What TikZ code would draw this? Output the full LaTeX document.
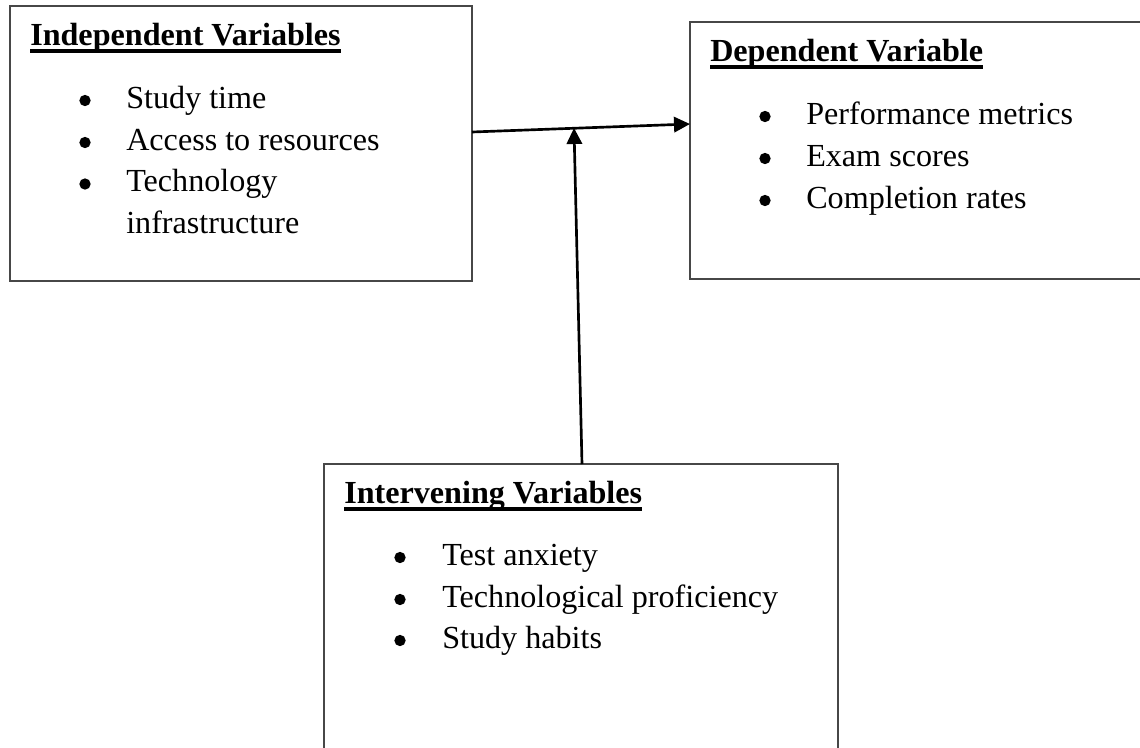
\documentclass[tikz,border=0pt]{standalone}
\usepackage{fontspec}
\setmainfont{Liberation Serif}
\usetikzlibrary{arrows.meta,calc}
\begin{document}
\begin{tikzpicture}[x=0.75pt,y=-0.75pt,
  box/.style={draw=black!72, line width=1.5pt, anchor=north west, inner sep=0pt, outer sep=0pt},
  txt/.style={anchor=base west, inner sep=0pt, font=\fontsize{24.1}{28}\selectfont},
  ttl/.style={anchor=base west, inner sep=0pt, font=\fontsize{24.1}{28}\selectfont\bfseries},
  bul/.style={circle, fill=black, inner sep=0pt, minimum size=8.5pt},
  uline/.style={line width=2.3pt},
  arr/.style={line width=2pt, -{Triangle[length=12pt,width=11.5pt]}}]
\useasboundingbox (0,0) rectangle (1140,747);
\clip (0,0) rectangle (1140,747);

% boxes
\node[box, minimum width=346.5pt, minimum height=206.25pt] (b1) at (10,6) {};
\node[box, minimum width=352pt, minimum height=192.75pt] (b2) at (690,22) {};
\node[box, minimum width=385.5pt, minimum height=240pt] (b3) at (324,464) {};

% box 1
\node[ttl] (t1) at (30,45) {Independent Variables};
\draw[uline] ([yshift=-4.5pt]t1.base west) -- ([yshift=-4.5pt]t1.base east);
\node[bul] (p11) at (85,100.5) {};
\node[bul] (p12) at (85,142.5) {};
\node[bul] (p13) at (85,184) {};
\node[txt] (i11) at (126,108) {Study time};
\node[txt] (i12) at (126,150) {Access to resources};
\node[txt] (i13) at (126,191.5) {Technology};
\node[txt] (i14) at (126,233) {infrastructure};

% box 2
\node[ttl] (t2) at (710,61) {Dependent Variable};
\draw[uline] ([yshift=-4.5pt]t2.base west) -- ([yshift=-4.5pt]t2.base east);
\node[bul] (p21) at (765,116.5) {};
\node[bul] (p22) at (765,158.5) {};
\node[bul] (p23) at (765,200.5) {};
\node[txt] (i21) at (806,124) {Performance metrics};
\node[txt] (i22) at (806,166) {Exam scores};
\node[txt] (i23) at (806,208) {Completion rates};

% box 3
\node[ttl] (t3) at (344,503) {Intervening Variables};
\draw[uline] ([yshift=-4.5pt]t3.base west) -- ([yshift=-4.5pt]t3.base east);
\node[bul] (p31) at (400,557.5) {};
\node[bul] (p32) at (400,599.5) {};
\node[bul] (p33) at (400,640.5) {};
\node[txt] (i31) at (442,565) {Test anxiety};
\node[txt] (i32) at (442,607) {Technological proficiency};
\node[txt] (i33) at (442,648) {Study habits};

% connectors
\draw[arr] ([yshift=-94.5pt]b1.north east) -- ([yshift=-76.5pt]b2.north west);
\coordinate (j) at (574,128);
\draw[arr] ([xshift=193.5pt]b3.north west) -- (j);
\end{tikzpicture}
\end{document}
